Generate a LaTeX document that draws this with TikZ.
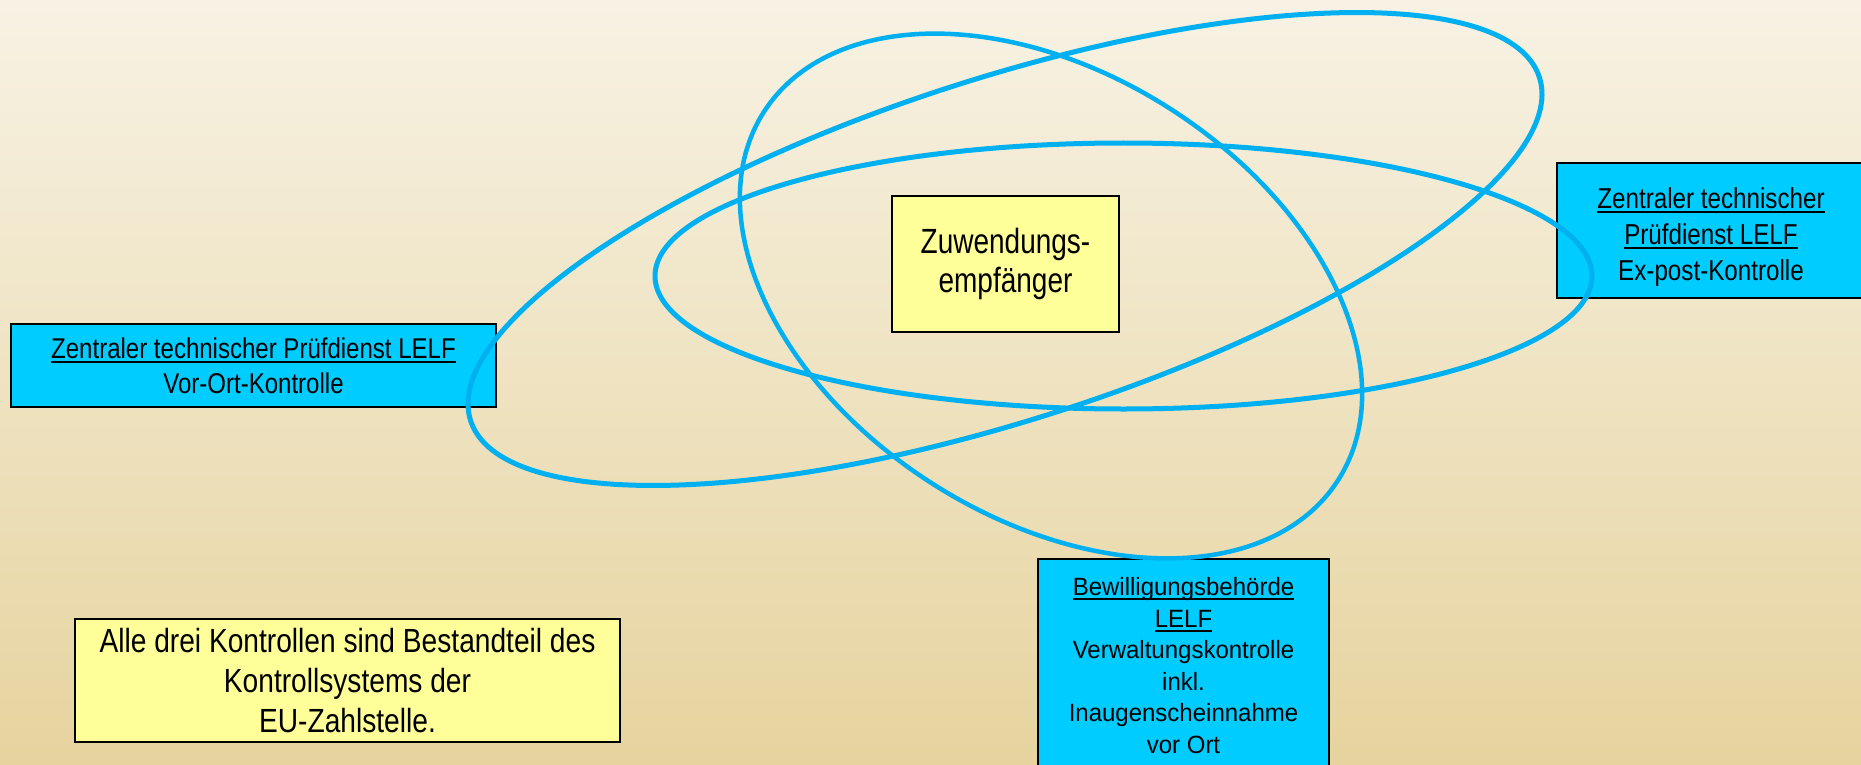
\documentclass[tikz,border=0pt]{standalone}
\usepackage{fontspec}
\setmainfont{Liberation Sans}
\newfontfamily\fnA[FakeStretch=0.84]{Liberation Sans}
\newfontfamily\fnC[FakeStretch=0.80]{Liberation Sans}
\newfontfamily\fnB[FakeStretch=0.96]{Liberation Sans}
\newsavebox{\ulbox}
\newcommand\ulx[1]{\sbox\ulbox{#1}\rlap{\rule[-4.5pt]{\wd\ulbox}{1.8pt}}\usebox\ulbox}
\definecolor{bgtop}{RGB}{247,242,228}
\definecolor{bgmid}{RGB}{236,222,186}
\definecolor{bgbot}{RGB}{230,211,158}
\definecolor{ringblue}{RGB}{0,176,240}
\definecolor{boxcyan}{RGB}{0,204,255}
\definecolor{noteyellow}{RGB}{255,255,153}
\begin{document}
\begin{tikzpicture}[x=1pt,y=-1pt,
  ring/.style={draw=ringblue, line width=5pt},
  cbox/.style={draw=black, line width=2pt, fill=boxcyan, rectangle, inner sep=0pt, align=center},
  ybox/.style={draw=black, line width=2pt, fill=noteyellow, rectangle, inner sep=0pt, align=center}]
\useasboundingbox (0,0) rectangle (1861,765);
\shade[top color=bgtop, middle color=bgmid, bottom color=bgbot] (0,0) rectangle (1861,765);

\node[cbox, minimum width=485pt, minimum height=83pt, font=\fnA\fontsize{28.6}{35}\selectfont] (vok) at (253.5,365.5)
  {\ulx{Zentraler technischer Prüfdienst LELF}\\Vor-Ort-Kontrolle};
\node[cbox, minimum width=308pt, minimum height=135pt, font=\fnA\fontsize{28.8}{36}\selectfont] (epk) at (1711,230.5)
  {\rule{0pt}{38pt}\ulx{Zentraler technischer}\\\ulx{Prüfdienst LELF}\\Ex-post-Kontrolle\rule[-11pt]{0pt}{11pt}};
\node[cbox, minimum width=291pt, minimum height=213pt, font=\fnB\fontsize{25}{31.5}\selectfont] (vwk) at (1183.5,665.5)
  {\ulx{Bewilligungsbehörde}\\\ulx{LELF}\\Verwaltungskontrolle\\inkl.\\Inaugenscheinnahme\\vor Ort};
\node[ybox, minimum width=227pt, minimum height=136pt, font=\fnC\fontsize{35}{39.5}\selectfont] (zwe) at (1005.5,264)
  {Zuwendungs-\\empfänger};
\node[ybox, minimum width=545pt, minimum height=123pt, font=\fnA\fontsize{33.5}{40}\selectfont] (note) at (347.5,680.5)
  {Alle drei Kontrollen sind Bestandteil des\\Kontrollsystems der\\EU-Zahlstelle.};

\draw[ring] (1123.5,276) ellipse [x radius=468.5, y radius=133];
\draw[ring, rotate around={17.8:(1005,249)}] (1005,249) ellipse [x radius=561.3, y radius=170.9];
\draw[ring, line width=4.5pt, rotate around={-32.7:(1051,296)}] (1051,296) ellipse [x radius=341.1, y radius=222];
\end{tikzpicture}
\end{document}
